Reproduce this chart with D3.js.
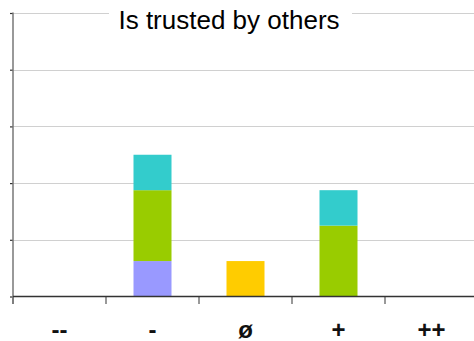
<!DOCTYPE html>
<html>
<head>
<meta charset="utf-8">
<script src="https://cdn.jsdelivr.net/npm/d3@7"></script>
<style>
  html, body { margin: 0; padding: 0; background: #fff; }
  svg { display: block; }
</style>
</head>
<body>
<svg id="chart" width="474" height="341"></svg>
<script>
// Answer scale categories along the x axis
const categories = ["--", "-", "ø", "+", "++"];
// Stacked series, bottom to top
const seriesNames = ["A", "B", "C", "D"];
const seriesA = [0, 1, 0, 0, 0];
const seriesB = [0, 0, 1, 0, 0];
const seriesC = [0, 2, 0, 2, 0];
const seriesD = [0, 1, 0, 1, 0];
const seriesColors = ["#9999ff", "#ffcc00", "#99cc00", "#33cccc"];
const yTicks = [0, 1.6, 3.2, 4.8, 6.4, 8];
const title = "Is trusted by others";

const rows = categories.map((c, i) => ({
  cat: c, A: seriesA[i], B: seriesB[i], C: seriesC[i], D: seriesD[i]
}));

const svg = d3.select("#chart");
const plotLeft = 13, plotRight = 478, plotTop = 13, plotBottom = 296.5;

const x = d3.scaleBand().domain(categories).range([plotLeft, plotRight]).paddingInner(0).paddingOuter(0);
const y = d3.scaleLinear().domain([0, 8]).range([plotBottom, plotTop]);

// Horizontal gridlines
svg.append("g").selectAll("line").data(yTicks.slice(1)).join("line")
  .attr("x1", plotLeft).attr("x2", 474)
  .attr("y1", d => Math.round(y(d)) + 0.5).attr("y2", d => Math.round(y(d)) + 0.5)
  .attr("stroke", "#d0d0d0").attr("stroke-width", 1.2);

// Stacked bars
const stack = d3.stack().keys(seriesNames)(rows);
const barW = 38;
svg.append("g").selectAll("g").data(stack).join("g")
  .attr("fill", (d, i) => seriesColors[i])
  .selectAll("rect").data(d => d.filter(p => p[1] > p[0])).join("rect")
  .attr("x", d => x(d.data.cat) + x.bandwidth() / 2 - barW / 2)
  .attr("width", barW)
  .attr("y", d => y(d[1]))
  .attr("height", d => y(d[0]) - y(d[1]));

// Y axis
const yAxis = d3.axisLeft(y).tickValues(yTicks).tickSize(3).tickFormat("");
const gy = svg.append("g").attr("transform", `translate(${plotLeft},0)`).call(yAxis);
gy.select(".domain").remove();
gy.selectAll(".tick line").attr("stroke", "#333").attr("stroke-width", 1.2);
svg.append("line").attr("x1", plotLeft).attr("x2", plotLeft).attr("y1", plotTop - 0.5).attr("y2", 304)
  .attr("stroke", "#777").attr("stroke-width", 1.5);

// X axis
const xAxis = d3.axisBottom(x).tickSize(0).tickPadding(0).tickFormat(d => d);
const gx = svg.append("g").attr("transform", `translate(0,${plotBottom})`).call(xAxis);
gx.select(".domain").remove();
gx.selectAll(".tick text")
  .attr("y", 41).attr("dy", null)
  .attr("font-family", "Liberation Sans, Arial, sans-serif")
  .attr("font-size", 24).attr("font-weight", "bold").attr("fill", "#111");
// Category separator ticks
svg.append("g").selectAll("line").data(categories).join("line")
  .attr("x1", d => x(d)).attr("x2", d => x(d))
  .attr("y1", plotBottom).attr("y2", 304)
  .attr("stroke", "#777").attr("stroke-width", 1.5);
svg.append("line").attr("x1", plotLeft).attr("x2", 474).attr("y1", plotBottom).attr("y2", plotBottom)
  .attr("stroke", "#333").attr("stroke-width", 1.5);

// Title with white backing over the top gridline
svg.append("rect").attr("x", 109).attr("y", 4).attr("width", 243).attr("height", 30).attr("fill", "#fff");
svg.append("text").attr("x", 229).attr("y", 29).attr("text-anchor", "middle")
  .attr("font-family", "Liberation Sans, Arial, sans-serif").attr("font-size", 26)
  .attr("fill", "#000").text(title);
</script>
</body>
</html>
